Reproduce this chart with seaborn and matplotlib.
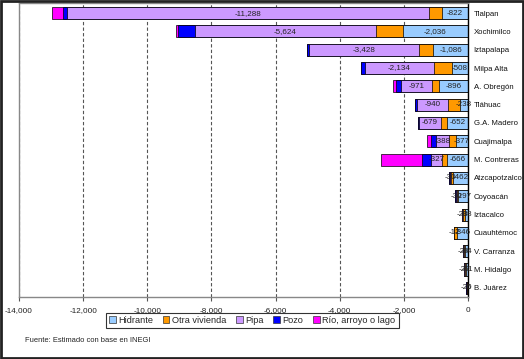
import matplotlib
matplotlib.use("Agg")
import matplotlib.pyplot as plt
import seaborn as sns
import pandas as pd
import numpy as np
from matplotlib.patches import Rectangle, Patch
from matplotlib.ticker import FuncFormatter, MultipleLocator

delegaciones = ["Tlalpan", "Xochimilco", "Iztapalapa", "Milpa Alta", "A. Obregón",
                "Tláhuac", "G.A. Madero", "Cuajimalpa", "M. Contreras", "Atzcapotzalco",
                "Coyoacán", "Iztacalco", "Cuauhtémoc", "V. Carranza", "M. Hidalgo", "B. Juárez"]
hidrante = [822, 2036, 1086, 508, 896, 238, 652, 377, 666, 462, 297, 88, 346, 94, 61, 6]
otra_vivienda = [400, 840, 440, 560, 220, 400, 190, 220, 160, 80, 60, 70, 80, 40, 30, 20]
pipa = [11288, 5624, 3428, 2134, 971, 940, 679, 388, 327, 30, 30, 20, 12, 20, 20, 20]
pozo = [130, 530, 60, 130, 160, 60, 30, 160, 270, 10, 10, 10, 10, 10, 10, 10]
rio = [340, 60, 0, 0, 90, 0, 0, 120, 1280, 0, 0, 0, 0, 0, 0, 0]

series_names = ["Hidrante", "Otra vivienda", "Pipa", "Pozo", "Río, arroyo o lago"]
series_vals = [hidrante, otra_vivienda, pipa, pozo, rio]
colors = ["#99CCFF", "#FF9900", "#CC99FF", "#0000FF", "#FF00FF"]

sns.set_theme(style="white")
plt.rcParams["font.family"] = ["Liberation Sans", "DejaVu Sans"]

fig = plt.figure(figsize=(5.24, 3.59), dpi=100)
ax = fig.add_axes([19/524, 1 - 297/359, (468 - 19)/524, (297 - 3)/359])

vals = np.array(series_vals, dtype=float)
cum = -np.cumsum(vals, axis=0)

# draw from the outermost layer inward so each segment stays visible
for i in range(len(series_names) - 1, -1, -1):
    df = pd.DataFrame({"cat": delegaciones, "val": cum[i]})
    sns.barplot(data=df, x="val", y="cat", orient="h", color=colors[i],
                width=0.66, edgecolor="black", linewidth=0.5, saturation=1,
                ax=ax, order=delegaciones)

fmt = lambda v: f"{int(round(v)):,}"
for j in range(len(delegaciones)):
    h = hidrante[j]
    ax.text(-h / 2, j, fmt(-h), ha="center", va="center", fontsize=5.8, color="#222222")
    p = pipa[j]
    xc = -(hidrante[j] + otra_vivienda[j] + p / 2)
    ax.text(xc, j, fmt(-p), ha="center", va="center", fontsize=5.8, color="#222222")

ax.set_xlim(-14000, 0)
ax.set_ylim(len(delegaciones) - 0.5, -0.55)
ax.xaxis.set_major_locator(MultipleLocator(2000))
ax.xaxis.set_major_formatter(FuncFormatter(lambda v, p: f"{int(v):,}"))
ax.grid(axis="x", linestyle=(0, (3, 2)), color="#555555", linewidth=0.8)
ax.grid(axis="y", visible=False)
ax.set_axisbelow(True)
ax.set_xlabel("")
ax.set_ylabel("")
ax.yaxis.tick_right()
ax.tick_params(axis="y", length=0, pad=4, labelsize=5.6, labelcolor="#111111")
ax.tick_params(axis="x", length=3, direction="out", width=0.8, color="#555555",
               labelsize=5.9, labelcolor="#222222", pad=4, bottom=True)
for s in ["left", "top", "bottom"]:
    ax.spines[s].set_color("#888888")
    ax.spines[s].set_linewidth(1.0)
ax.spines["right"].set_color("black")
ax.spines["right"].set_linewidth(1.0)

handles = [Patch(facecolor=c, edgecolor="#333333", linewidth=0.5) for c in colors]
leg = fig.legend(handles, series_names, loc="center", bbox_to_anchor=(0.481, 0.108),
                 ncol=5, fontsize=6.6, frameon=True, fancybox=False, handlelength=0.75,
                 handleheight=0.75, handletextpad=0.3, columnspacing=1.0,
                 borderpad=0.35, edgecolor="black")
leg.get_frame().set_linewidth(0.8)

fig.text(25/524, 1 - 340/359, "Fuente: Estimado con base en INEGI", fontsize=5.4,
         color="#222222", va="center", ha="left")

fig.patches.append(Rectangle((0.002, 0.003), 0.996, 0.994, transform=fig.transFigure,
                             fill=False, edgecolor="#222222", linewidth=2))

fig.savefig("out.png", dpi=100)
